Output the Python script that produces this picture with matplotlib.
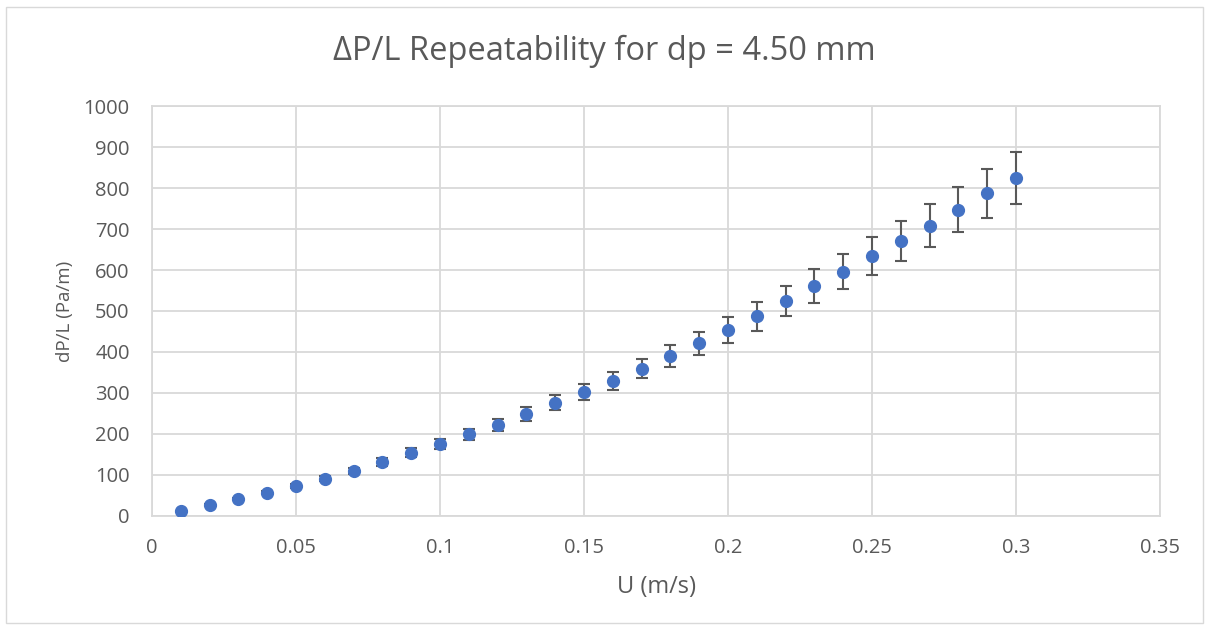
import matplotlib
matplotlib.use("Agg")
import matplotlib.pyplot as plt
from matplotlib.patches import Rectangle

plt.rcParams['font.family'] = ['Open Sans', 'DejaVu Sans']

# Data
u_vals = [0.01, 0.02, 0.03, 0.04, 0.05, 0.06, 0.07, 0.08, 0.09, 0.10,
          0.11, 0.12, 0.13, 0.14, 0.15, 0.16, 0.17, 0.18, 0.19, 0.20,
          0.21, 0.22, 0.23, 0.24, 0.25, 0.26, 0.27, 0.28, 0.29, 0.30]
dpl_vals = [12, 27, 41, 57, 73, 91, 110, 132, 154, 175,
            199, 222, 249, 276, 302, 329, 359, 390, 421, 454,
            487, 525, 561, 596, 634, 671, 708, 747, 787, 825]
err_vals = [1, 2, 3, 4, 5, 6, 8, 10, 11, 12,
            13, 14, 17, 18, 20, 21, 23, 26, 28, 32,
            35, 37, 41, 43, 46, 49, 52, 55, 59, 63]

x_ticks = [0, 0.05, 0.1, 0.15, 0.2, 0.25, 0.3, 0.35]
x_tick_labels = ['0', '0.05', '0.1', '0.15', '0.2', '0.25', '0.3', '0.35']
y_ticks = [0, 100, 200, 300, 400, 500, 600, 700, 800, 900, 1000]

title_text = 'ΔP/L Repeatability for dp = 4.50 mm'
x_label = 'U (m/s)'
y_label = 'dP/L (Pa/m)'

text_col = '#595959'
grid_col = '#D9D9D9'
marker_col = '#4472C4'

fig = plt.figure(figsize=(12.09, 6.30), dpi=100)
fig.patches.append(Rectangle((0.005, 0.011), 0.99, 0.978, transform=fig.transFigure,
                             fill=False, edgecolor=grid_col, linewidth=1.0))
ax = fig.add_axes([0.1257, 0.181, 0.8338, 0.6507])

ax.errorbar(u_vals, dpl_vals, yerr=err_vals, fmt='o', color=marker_col,
            markersize=8.5, ecolor='#595959', elinewidth=1.5, capsize=4.5,
            capthick=1.5, zorder=3)

ax.set_xlim(0, 0.35)
ax.set_ylim(0, 1000)
ax.set_xticks(x_ticks)
ax.set_xticklabels(x_tick_labels)
ax.set_yticks(y_ticks)
ax.grid(True, color=grid_col, linewidth=1.3)
ax.set_axisbelow(True)
for s in ax.spines.values():
    s.set_color(grid_col)
    s.set_linewidth(1.3)
ax.tick_params(axis='both', length=0, labelsize=14.5, colors=text_col)
ax.tick_params(axis='x', pad=16)
ax.tick_params(axis='y', pad=16)

ax.set_xlabel(x_label, fontsize=17, color=text_col, labelpad=12)
ax.set_ylabel(y_label, fontsize=13.5, color=text_col, labelpad=7)
fig.text(0.5, 0.919, title_text, ha='center', va='center', fontsize=23.5, color=text_col)

fig.savefig('out.png', dpi=100)
